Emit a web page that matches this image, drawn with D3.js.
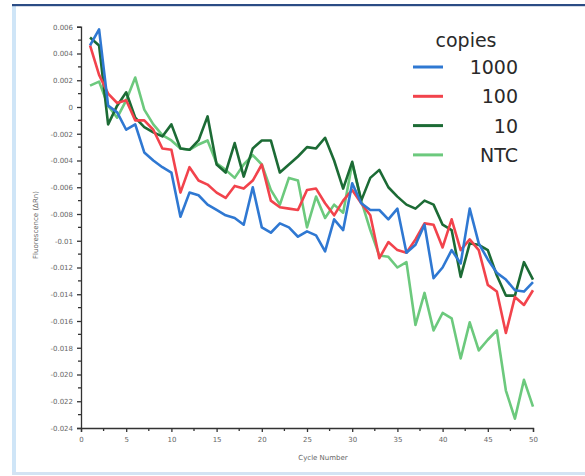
<!DOCTYPE html>
<html>
<head>
<meta charset="utf-8">
<script src="https://cdn.jsdelivr.net/npm/d3@7"></script>
<style>
  html, body { margin: 0; padding: 0; background: #fff; }
  svg { display: block; }
</style>
</head>
<body>
<svg id="chart" width="585" height="476"></svg>
<script>
// Amplification plot: fluorescence vs cycle for each template amount
const cycles = d3.range(1, 51);

const copies1000 = [0.0046, 0.0058, 0.0001, -0.0004, -0.0017, -0.0013, -0.0034, -0.0040, -0.0045, -0.0049,
  -0.0082, -0.0064, -0.0066, -0.0073, -0.0077, -0.0081, -0.0083, -0.0088, -0.0060, -0.0090,
  -0.0094, -0.0087, -0.0090, -0.0097, -0.0093, -0.0096, -0.0108, -0.0084, -0.0092, -0.0057,
  -0.0072, -0.0077, -0.0077, -0.0084, -0.0076, -0.0109, -0.0103, -0.0088, -0.0128, -0.0120,
  -0.0107, -0.0117, -0.0076, -0.0102, -0.0114, -0.0124, -0.0129, -0.0137, -0.0138, -0.0131];

const copies100 = [0.0046, 0.0024, 0.0010, 0.0003, 0.0005, -0.0010, -0.0010, -0.0017, -0.0031, -0.0032,
  -0.0064, -0.0045, -0.0055, -0.0058, -0.0064, -0.0068, -0.0059, -0.0061, -0.0055, -0.0043,
  -0.0070, -0.0075, -0.0076, -0.0077, -0.0062, -0.0061, -0.0072, -0.0081, -0.0070, -0.0062,
  -0.0072, -0.0081, -0.0113, -0.0101, -0.0107, -0.0109, -0.0099, -0.0087, -0.0088, -0.0105,
  -0.0084, -0.0107, -0.0099, -0.0107, -0.0133, -0.0138, -0.0169, -0.0142, -0.0148, -0.0137];

const copies10 = [0.0052, 0.0046, -0.0013, 0.0001, 0.0011, -0.0008, -0.0015, -0.0019, -0.0022, -0.0013,
  -0.0031, -0.0032, -0.0025, -0.0007, -0.0043, -0.0049, -0.0027, -0.0052, -0.0031, -0.0025,
  -0.0025, -0.0049, -0.0043, -0.0037, -0.0030, -0.0031, -0.0023, -0.0040, -0.0061, -0.0041,
  -0.0070, -0.0053, -0.0047, -0.0060, -0.0067, -0.0073, -0.0076, -0.0070, -0.0073, -0.0088,
  -0.0092, -0.0127, -0.0102, -0.0103, -0.0107, -0.0126, -0.0141, -0.0141, -0.0116, -0.0129];

const ntc = [0.0016, 0.0019, 0.0001, -0.0008, 0.0005, 0.0022, -0.0002, -0.0013, -0.0021, -0.0025,
  -0.0031, -0.0032, -0.0028, -0.0025, -0.0042, -0.0047, -0.0053, -0.0043, -0.0036, -0.0043,
  -0.0062, -0.0073, -0.0053, -0.0055, -0.0090, -0.0067, -0.0083, -0.0073, -0.0079, -0.0042,
  -0.0070, -0.0092, -0.0111, -0.0112, -0.0120, -0.0116, -0.0163, -0.0139, -0.0167, -0.0154,
  -0.0158, -0.0188, -0.0161, -0.0182, -0.0174, -0.0167, -0.0212, -0.0233, -0.0204, -0.0224];

const seriesNames = ["1000", "100", "10", "NTC"];
const seriesValues = [copies1000, copies100, copies10, ntc];
const seriesColors = ["#2f78d2", "#f2434c", "#1c6b35", "#6cc97d"];
// draw order: later entries sit on top
const drawOrder = [3, 2, 1, 0];

const xTickLabels = [0, 5, 10, 15, 20, 25, 30, 35, 40, 45, 50];
const yTickLabels = ["0.006", "0.004", "0.002", "0", "-0.002", "-0.004", "-0.006", "-0.008",
  "-0.01", "-0.012", "-0.014", "-0.016", "-0.018", "-0.020", "-0.022", "-0.024"];
const yTickValues = yTickLabels.map(Number);

const svg = d3.select("#chart");

// panel frame
svg.append("rect").attr("x", 12).attr("y", 5).attr("width", 4).attr("height", 470).attr("fill", "#cfe5f7");
svg.append("rect").attr("x", 12).attr("y", 472).attr("width", 573).attr("height", 3).attr("fill", "#d3e3f3");
svg.append("rect").attr("x", 12).attr("y", 4).attr("width", 573).attr("height", 2.2).attr("fill", "#2b4c85");

const x = d3.scaleLinear().domain([0, 50]).range([81, 533]);
const y = d3.scaleLinear().domain([-0.024, 0.006]).range([428, 26.75]);

// y axis
const yAxis = d3.axisLeft(y)
  .tickValues(yTickValues)
  .tickFormat((d, i) => yTickLabels[i])
  .tickSize(4)
  .tickPadding(4);
const gy = svg.append("g").attr("transform", `translate(${x(0)},0)`).call(yAxis);
gy.select(".domain").attr("stroke", "#333").attr("stroke-width", 1.3);
gy.selectAll(".tick line").attr("stroke", "#333").attr("stroke-width", 1.3);
gy.selectAll(".tick text").attr("fill", "#666").style("font-family", "DejaVu Sans").style("font-size", "7px");
const yMinor = d3.range(-0.023, 0.006, 0.002);
gy.selectAll(".minor").data(yMinor).enter().append("line")
  .attr("x1", -3).attr("x2", 0)
  .attr("y1", d => y(d)).attr("y2", d => y(d))
  .attr("stroke", "#333").attr("stroke-width", 1.3);

// x axis
const xAxis = d3.axisBottom(x)
  .tickValues(xTickLabels)
  .tickFormat(d3.format("d"))
  .tickSize(4)
  .tickPadding(5);
const gx = svg.append("g").attr("transform", `translate(0,${y(-0.024)})`).call(xAxis);
gx.select(".domain").attr("stroke", "#333").attr("stroke-width", 1.3);
gx.selectAll(".tick line").attr("stroke", "#333").attr("stroke-width", 1.3);
gx.selectAll(".tick text").attr("fill", "#666").style("font-family", "DejaVu Sans").style("font-size", "7px");
const xMinor = d3.range(2.5, 50, 5);
gx.selectAll(".minor").data(xMinor).enter().append("line")
  .attr("x1", d => x(d)).attr("x2", d => x(d))
  .attr("y1", 0).attr("y2", 3)
  .attr("stroke", "#333").attr("stroke-width", 1.3);

// axis titles
svg.append("text")
  .attr("x", 323).attr("y", 460)
  .attr("text-anchor", "middle")
  .attr("fill", "#666")
  .style("font-family", "DejaVu Sans").style("font-size", "7px")
  .text("Cycle Number");
svg.append("text")
  .attr("transform", "translate(38,225) rotate(-90)")
  .attr("text-anchor", "middle")
  .attr("fill", "#666")
  .style("font-family", "DejaVu Sans").style("font-size", "7px")
  .text("Fluorescence (ΔRn)");

// series lines
const line = d3.line()
  .x((d, i) => x(cycles[i]))
  .y(d => y(d));
drawOrder.forEach(k => {
  svg.append("path")
    .datum(seriesValues[k])
    .attr("fill", "none")
    .attr("stroke", seriesColors[k])
    .attr("stroke-width", 2.6)
    .attr("stroke-linejoin", "round")
    .attr("d", line);
});

// legend
const legend = svg.append("g");
legend.append("text")
  .attr("x", 466).attr("y", 47)
  .attr("text-anchor", "middle")
  .attr("fill", "#2a2a2a")
  .style("font-family", "DejaVu Sans").style("font-size", "19px")
  .text("copies");
seriesNames.forEach((name, i) => {
  const ly = 67 + i * 29.3;
  legend.append("line")
    .attr("x1", 413).attr("x2", 443)
    .attr("y1", ly).attr("y2", ly)
    .attr("stroke", seriesColors[i]).attr("stroke-width", 3);
  legend.append("text")
    .attr("x", 518).attr("y", ly + 7)
    .attr("text-anchor", "end")
    .attr("fill", "#2a2a2a")
    .style("font-family", "DejaVu Sans").style("font-size", "19px")
    .text(name);
});
</script>
</body>
</html>
